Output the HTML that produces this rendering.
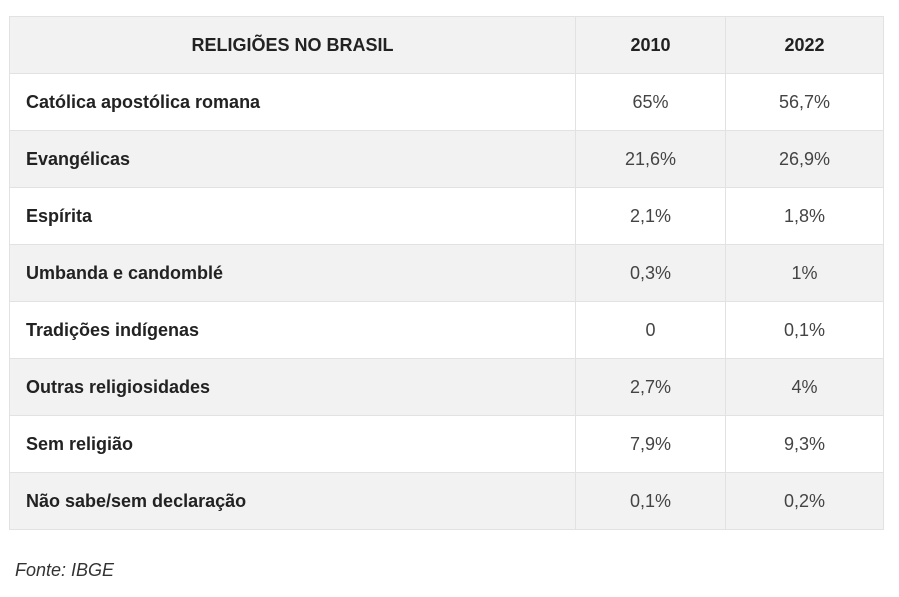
<!DOCTYPE html>
<html><head><meta charset="utf-8"><style>
body{margin:0;width:899px;height:597px;background:#fff;font-family:"Liberation Sans",sans-serif;color:#222;overflow:hidden}
table{position:absolute;left:9px;top:16px;border-collapse:collapse;width:875px}
td,th{border:1px solid #e2e2e2;height:57px;padding:0;box-sizing:border-box;font-size:18px}
tr{height:57px}
tr:nth-child(odd){background:#f2f2f2}
tr:nth-child(even){background:#fff}
th{font-weight:bold;text-align:center;color:#222}
td.l{padding-left:16px;font-weight:bold;color:#222}
td.v{text-align:center;color:#444;font-weight:normal}
.src{position:absolute;left:15px;top:560px;font-style:italic;font-size:18px;color:#333}
</style></head><body>
<table>
<tr><th style="width:566px">RELIGIÕES NO BRASIL</th><th style="width:150px">2010</th><th>2022</th></tr>
<tr><td class="l">Católica apostólica romana</td><td class="v">65%</td><td class="v">56,7%</td></tr>
<tr><td class="l">Evangélicas</td><td class="v">21,6%</td><td class="v">26,9%</td></tr>
<tr><td class="l">Espírita</td><td class="v">2,1%</td><td class="v">1,8%</td></tr>
<tr><td class="l">Umbanda e candomblé</td><td class="v">0,3%</td><td class="v">1%</td></tr>
<tr><td class="l">Tradições indígenas</td><td class="v">0</td><td class="v">0,1%</td></tr>
<tr><td class="l">Outras religiosidades</td><td class="v">2,7%</td><td class="v">4%</td></tr>
<tr><td class="l">Sem religião</td><td class="v">7,9%</td><td class="v">9,3%</td></tr>
<tr><td class="l">Não sabe/sem declaração</td><td class="v">0,1%</td><td class="v">0,2%</td></tr>
</table>
<div class="src">Fonte: IBGE</div>
</body></html>
